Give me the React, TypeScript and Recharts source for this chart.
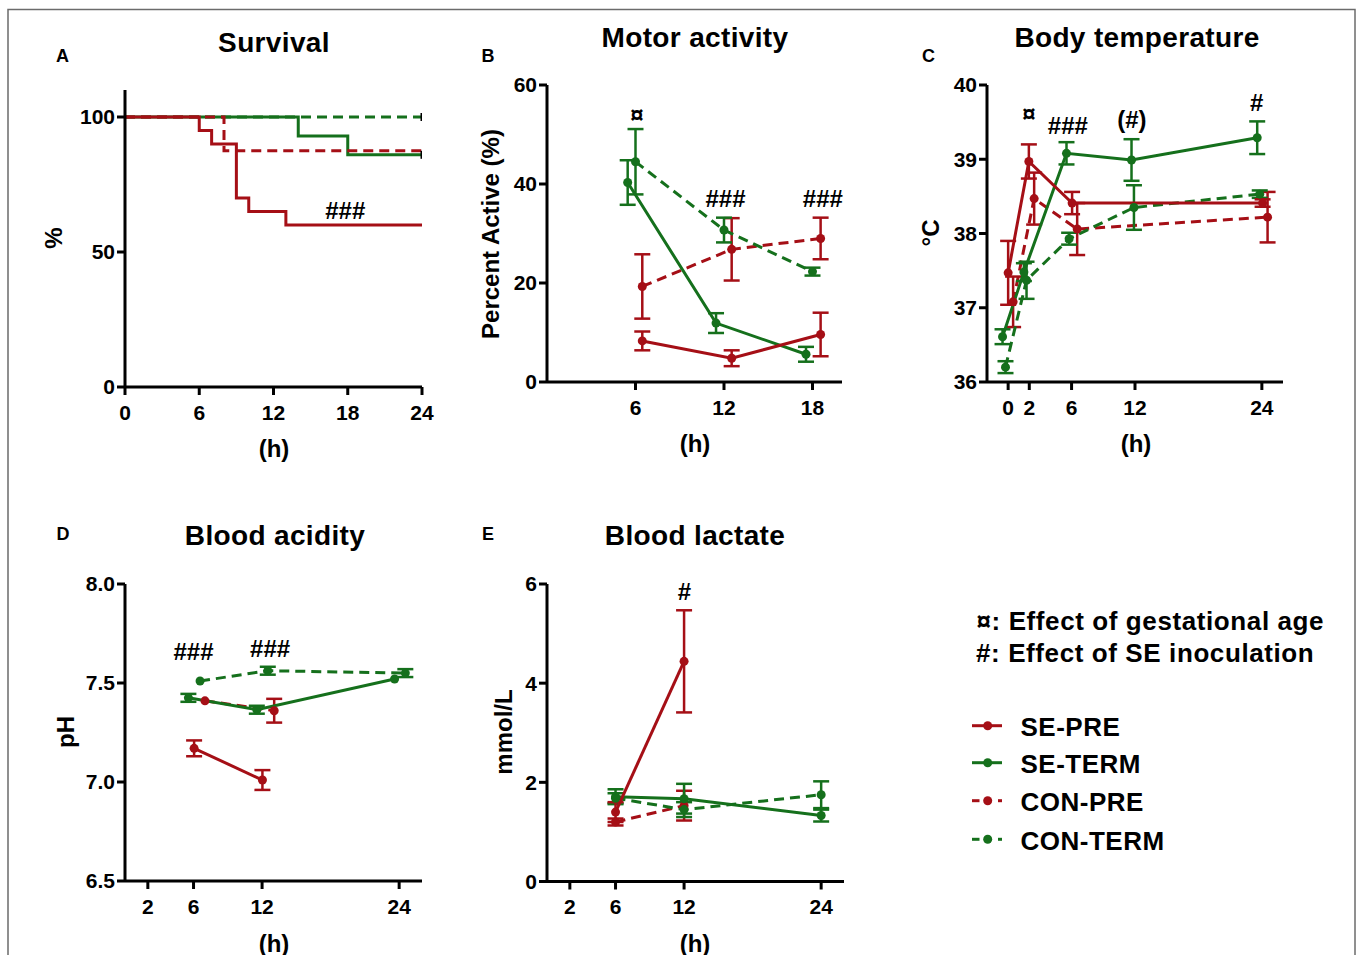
import React from 'react';
import { LineChart, Line, XAxis, YAxis, ErrorBar, ReferenceDot } from 'recharts';

const RED = '#A50F16';
const GREEN = '#15701C';
const FONT = "'Liberation Sans', Arial, Helvetica, sans-serif";

// ---------- A: Survival ----------
const survSePreH = [0, 6, 7, 9, 10, 13, 24];
const survSePreV = [100, 95, 90, 70, 65, 60, 60];
const survConPreH = [0, 8, 24];
const survConPreV = [100, 87.5, 87.5];
const survSeTermH = [0, 14, 18, 24];
const survSeTermV = [100, 93, 86, 86];
const survConTermH = [0, 24];
const survConTermV = [100, 100];

// ---------- B: Motor activity ----------
const motSePreH = [6.46, 12.52, 18.55];
const motSePreV = [8.3, 4.8, 9.6];
const motSePreE = [1.9, 1.6, 4.4];
const motConPreH = [6.46, 12.52, 18.55];
const motConPreV = [19.3, 26.8, 29.0];
const motConPreE = [6.5, 6.3, 4.2];
const motSeTermH = [5.47, 11.46, 17.56];
const motSeTermV = [40.3, 11.9, 5.6];
const motSeTermE = [4.5, 2.0, 1.5];
const motConTermH = [6.0, 12.0, 18.0];
const motConTermV = [44.5, 30.7, 22.3];
const motConTermE = [6.6, 2.5, 0.8];

// ---------- C: Body temperature ----------
const tmpSePreH = [0, 1.96, 6.05, 24.07];
const tmpSePreV = [37.47, 38.97, 38.41, 38.41];
const tmpSePreE = [0.43, 0.23, 0.15, 0.05];
const tmpConPreH = [0.47, 2.46, 6.53, 24.54];
const tmpConPreV = [37.08, 38.47, 38.06, 38.22];
const tmpConPreE = [0.34, 0.35, 0.35, 0.34];
const tmpSeTermH = [-0.53, 1.49, 5.52, 11.67, 23.56];
const tmpSeTermV = [36.61, 37.48, 39.08, 38.99, 39.29];
const tmpSeTermE = [0.1, 0.12, 0.15, 0.28, 0.22];
const tmpConTermH = [-0.25, 1.74, 5.77, 11.9, 23.8];
const tmpConTermV = [36.2, 37.37, 37.93, 38.35, 38.53];
const tmpConTermE = [0.08, 0.25, 0.08, 0.3, 0.05];

// ---------- D: Blood acidity ----------
const phSePreH = [6.05, 12.03];
const phSePreV = [7.17, 7.01];
const phSePreE = [0.04, 0.05];
const phConPreH = [7.0, 13.06];
const phConPreV = [7.41, 7.36];
const phConPreE = [0, 0.06];
const phSeTermH = [5.55, 11.54, 23.6];
const phSeTermV = [7.425, 7.365, 7.52];
const phSeTermE = [0.02, 0.02, 0];
const phConTermH = [6.57, 12.5, 24.54];
const phConTermV = [7.51, 7.562, 7.55];
const phConTermE = [0, 0.02, 0.02];

// ---------- E: Blood lactate ----------
const lacSePreH = [6, 12];
const lacSePreV = [1.4, 4.44];
const lacSePreE = [0.2, 1.03];
const lacConPreH = [6, 12];
const lacConPreV = [1.2, 1.53];
const lacConPreE = [0.07, 0.3];
const lacSeTermH = [6, 12, 24];
const lacSeTermV = [1.71, 1.67, 1.33];
const lacSeTermE = [0.15, 0.3, 0.12];
const lacConTermH = [6, 12, 24];
const lacConTermV = [1.68, 1.45, 1.75];
const lacConTermE = [0.1, 0.15, 0.27];

// ---------- ticks ----------
const survXTicks = [0, 6, 12, 18, 24];
const survYTicks = [0, 50, 100];
const motXTicks = [6, 12, 18];
const motYTicks = [0, 20, 40, 60];
const tmpXTicks = [0, 2, 6, 12, 24];
const tmpYTicks = [36, 37, 38, 39, 40];
const phXTicks = [2, 6, 12, 24];
const phYTicks = [6.5, 7.0, 7.5, 8.0];
const lacXTicks = [2, 6, 12, 24];
const lacYTicks = [0, 2, 4, 6];

// ---------- annotations ----------
const survNotes = [{ x: 17.8, y: 65.3, t: '###' }];
const motNotes = [
  { x: 6.1, y: 54.1, t: '¤' },
  { x: 12.1, y: 37, t: '###' },
  { x: 18.7, y: 37, t: '###' },
];
const tmpNotes = [
  { x: 1.96, y: 39.62, t: '¤' },
  { x: 5.65, y: 39.45, t: '###' },
  { x: 11.7, y: 39.54, t: '(#)' },
  { x: 23.5, y: 39.77, t: '#' },
];
const phNotes = [
  { x: 6.0, y: 7.658, t: '###' },
  { x: 12.7, y: 7.675, t: '###' },
];
const lacNotes = [{ x: 12.04, y: 5.85, t: '#' }];

const seriesNames = ['SE-PRE', 'SE-TERM', 'CON-PRE', 'CON-TERM'];
const seriesColors = [RED, GREEN, RED, GREEN];
const seriesDashed = [false, false, true, true];

type Pt = { x: number; y: number; e?: number };
const zip = (h: number[], v: number[], e?: number[]): Pt[] =>
  h.map((x, i) => ({ x, y: v[i], e: e ? e[i] : undefined }));

type Series = {
  name: string;
  data: Pt[];
  color: string;
  dashed: boolean;
  step?: boolean;
  censor?: boolean;
};

type Note = { x: number; y: number; t: string };

const tickStyle = { fill: '#000', fontSize: 21, fontWeight: 700, fontFamily: FONT };
const axisStyle = { stroke: '#000', strokeWidth: 3 };

function Panel(props: {
  plot: { x: number; y: number; w: number; h: number };
  xDomain: [number, number];
  xTicks: number[];
  yDomain: [number, number];
  yTicks: number[];
  series: Series[];
  notes: Note[];
  yFmt?: (v: number) => string;
}) {
  const { plot, xDomain, xTicks, yDomain, yTicks, series, notes, yFmt } = props;
  const ML = 10, YW = 60, MT = 15, MR = 15, XH = 50;
  const w = plot.w + ML + YW + MR;
  const h = plot.h + MT + XH;
  return (
    <div style={{ position: 'absolute', left: plot.x - ML - YW, top: plot.y - MT }}>
      <LineChart width={w} height={h} margin={{ top: MT, right: MR, left: ML, bottom: 0 }}>
        <XAxis
          type="number"
          dataKey="x"
          domain={xDomain}
          ticks={xTicks}
          allowDataOverflow
          height={XH}
          tickSize={8}
          tickMargin={10}
          axisLine={axisStyle}
          tickLine={axisStyle}
          tick={tickStyle}
          interval={0}
        />
        <YAxis
          type="number"
          domain={yDomain}
          ticks={yTicks}
          allowDataOverflow
          width={YW}
          tickSize={8}
          tickMargin={2}
          axisLine={axisStyle}
          tickLine={axisStyle}
          tick={tickStyle}
          tickFormatter={yFmt}
          interval={0}
        />
        {series.map((s, si) => {
          const last = s.data.length - 1;
          const hasErr = s.data.some((d) => d.e);
          const dot = s.step
            ? (p: any) =>
                s.censor && p.index === last ? (
                  <rect key={`c${si}-${p.index}`} x={p.cx - 1.5} y={p.cy - 4} width={3} height={8} fill="#000" />
                ) : (
                  <g key={`c${si}-${p.index}`} />
                )
            : { r: 4.5, fill: s.color, stroke: s.color, strokeWidth: 0 };
          return (
            <Line
              key={s.name}
              name={s.name}
              data={s.data}
              dataKey="y"
              type={s.step ? 'stepAfter' : 'linear'}
              stroke={s.color}
              strokeWidth={3}
              strokeDasharray={s.dashed ? '10 6' : undefined}
              dot={dot as any}
              activeDot={false}
              isAnimationActive={false}
            >
              {hasErr && (
                <ErrorBar dataKey="e" width={8} strokeWidth={2.5} stroke={s.color} direction="y" />
              )}
            </Line>
          );
        })}
        {notes.map((n, i) => (
          <ReferenceDot
            key={`n${i}`}
            x={n.x}
            y={n.y}
            r={0}
            fill="none"
            stroke="none"
            label={{
              value: n.t,
              position: 'center',
              fill: '#000',
              fontSize: 24,
              fontWeight: 700,
              fontFamily: FONT,
            }}
          />
        ))}
      </LineChart>
    </div>
  );
}

function mk(hs: number[][], vs: number[][], es?: (number[] | undefined)[], step?: boolean, censor?: boolean[]): Series[] {
  return hs.map((h, i) => ({
    name: seriesNames[i],
    data: zip(h, vs[i], es ? es[i] : undefined),
    color: seriesColors[i],
    dashed: seriesDashed[i],
    step,
    censor: censor ? censor[i] : false,
  }));
}

// draw order: CON-PRE, CON-TERM, SE-TERM, SE-PRE
const order = [2, 3, 1, 0];
const ordered = (s: Series[]) => order.map((i) => s[i]);

const survSeries = ordered(
  mk(
    [survSePreH, survSeTermH, survConPreH, survConTermH],
    [survSePreV, survSeTermV, survConPreV, survConTermV],
    undefined,
    true,
    [false, true, false, true]
  )
);
const survDraw = [survSeries[1], survSeries[2], survSeries[0], survSeries[3]];
const motSeries = ordered(
  mk(
    [motSePreH, motSeTermH, motConPreH, motConTermH],
    [motSePreV, motSeTermV, motConPreV, motConTermV],
    [motSePreE, motSeTermE, motConPreE, motConTermE]
  )
);
const tmpSeries = ordered(
  mk(
    [tmpSePreH, tmpSeTermH, tmpConPreH, tmpConTermH],
    [tmpSePreV, tmpSeTermV, tmpConPreV, tmpConTermV],
    [tmpSePreE, tmpSeTermE, tmpConPreE, tmpConTermE]
  )
);
const phSeries = ordered(
  mk(
    [phSePreH, phSeTermH, phConPreH, phConTermH],
    [phSePreV, phSeTermV, phConPreV, phConTermV],
    [phSePreE, phSeTermE, phConPreE, phConTermE]
  )
);
const lacSeries = ordered(
  mk(
    [lacSePreH, lacSeTermH, lacConPreH, lacConTermH],
    [lacSePreV, lacSeTermV, lacConPreV, lacConTermV],
    [lacSePreE, lacSeTermE, lacConPreE, lacConTermE]
  )
);

const titles = [
  { t: 'Survival', x: 274, y: 51.5 },
  { t: 'Motor activity', x: 695, y: 46.5 },
  { t: 'Body temperature', x: 1137, y: 46.5 },
  { t: 'Blood acidity', x: 275, y: 545 },
  { t: 'Blood lactate', x: 695, y: 545 },
];
const letters = [
  { t: 'A', x: 62.5, y: 61.5 },
  { t: 'B', x: 488, y: 61.5 },
  { t: 'C', x: 928.5, y: 61.5 },
  { t: 'D', x: 63, y: 540 },
  { t: 'E', x: 488, y: 540 },
];
const yLabels = [
  { t: '%', x: 53, y: 238 },
  { t: 'Percent Active (%)', x: 490.5, y: 234 },
  { t: '°C', x: 930, y: 233 },
  { t: 'pH', x: 65, y: 732 },
  { t: 'mmol/L', x: 503, y: 732 },
];
const xLabels = [
  { t: '(h)', x: 274, y: 448 },
  { t: '(h)', x: 695, y: 443 },
  { t: '(h)', x: 1136, y: 443 },
  { t: '(h)', x: 274, y: 943 },
  { t: '(h)', x: 695, y: 943 },
];
const keyNotes = ['¤: Effect of gestational age', '#: Effect of SE inoculation'];

export default function App() {
  const legendY = [725.7, 762.7, 800.7, 839.3];
  return (
    <div
      style={{
        position: 'absolute',
        left: 0,
        top: 0,
        width: 1358,
        height: 955,
        background: '#fff',
        fontFamily: FONT,
        overflow: 'hidden',
      }}
    >
      <svg width={1358} height={955} style={{ position: 'absolute', left: 0, top: 0 }}>
        <rect x={8} y={9.5} width={1347} height={980} fill="none" stroke="#6b6b6b" strokeWidth={1.5} />
        {titles.map((t, i) => (
          <text
            key={`t${i}`}
            x={t.x}
            y={t.y}
            textAnchor="middle"
            fontSize={28}
            fontWeight={700}
            letterSpacing={0.35}
            fill="#000"
          >
            {t.t}
          </text>
        ))}
        {letters.map((t, i) => (
          <text key={`l${i}`} x={t.x} y={t.y} textAnchor="middle" fontSize={18} fontWeight={700} fill="#000">
            {t.t}
          </text>
        ))}
        {yLabels.map((t, i) => (
          <text
            key={`y${i}`}
            x={t.x}
            y={t.y}
            textAnchor="middle"
            dominantBaseline="central"
            fontSize={24}
            fontWeight={700}
            fill="#000"
            transform={`rotate(-90 ${t.x} ${t.y})`}
          >
            {t.t}
          </text>
        ))}
        {xLabels.map((t, i) => (
          <text
            key={`x${i}`}
            x={t.x}
            y={t.y}
            textAnchor="middle"
            dominantBaseline="central"
            fontSize={24}
            fontWeight={700}
            fill="#000"
          >
            {t.t}
          </text>
        ))}
        <text x={976.5} y={630} fontSize={26} fontWeight={700} letterSpacing={0.6} fill="#000">
          {keyNotes[0]}
        </text>
        <text x={976} y={661.5} fontSize={26} fontWeight={700} letterSpacing={0.6} fill="#000">
          {keyNotes[1]}
        </text>
        {seriesNames.map((n, i) => {
          const y = legendY[i];
          const c = seriesColors[i];
          return (
            <g key={`g${i}`}>
              {seriesDashed[i] ? (
                <>
                  <line x1={972} y1={y} x2={979.5} y2={y} stroke={c} strokeWidth={3} />
                  <line x1={998} y1={y} x2={1002} y2={y} stroke={c} strokeWidth={3} />
                </>
              ) : (
                <line x1={972} y1={y} x2={1002} y2={y} stroke={c} strokeWidth={3} />
              )}
              <circle cx={987.7} cy={y} r={4.5} fill={c} />
              <text x={1020.5} y={y + 10.3} fontSize={26} fontWeight={700} letterSpacing={0.5} fill="#000">
                {n}
              </text>
            </g>
          );
        })}
      </svg>

      <Panel
        plot={{ x: 125, y: 90, w: 297, h: 297 }}
        xDomain={[0, 24]}
        xTicks={survXTicks}
        yDomain={[0, 110]}
        yTicks={survYTicks}
        series={survDraw}
        notes={survNotes}
      />
      <Panel
        plot={{ x: 547, y: 85, w: 295, h: 297 }}
        xDomain={[0, 20]}
        xTicks={motXTicks}
        yDomain={[0, 60]}
        yTicks={motYTicks}
        series={motSeries}
        notes={motNotes}
      />
      <Panel
        plot={{ x: 987, y: 85, w: 296, h: 297 }}
        xDomain={[-2, 26]}
        xTicks={tmpXTicks}
        yDomain={[36, 40]}
        yTicks={tmpYTicks}
        series={tmpSeries}
        notes={tmpNotes}
      />
      <Panel
        plot={{ x: 125, y: 584, w: 297, h: 297 }}
        xDomain={[0, 26]}
        xTicks={phXTicks}
        yDomain={[6.5, 8.0]}
        yTicks={phYTicks}
        series={phSeries}
        notes={phNotes}
        yFmt={(v: number) => v.toFixed(1)}
      />
      <Panel
        plot={{ x: 547, y: 583.5, w: 297, h: 297.5 }}
        xDomain={[0, 26]}
        xTicks={lacXTicks}
        yDomain={[0, 6]}
        yTicks={lacYTicks}
        series={lacSeries}
        notes={lacNotes}
      />
    </div>
  );
}
